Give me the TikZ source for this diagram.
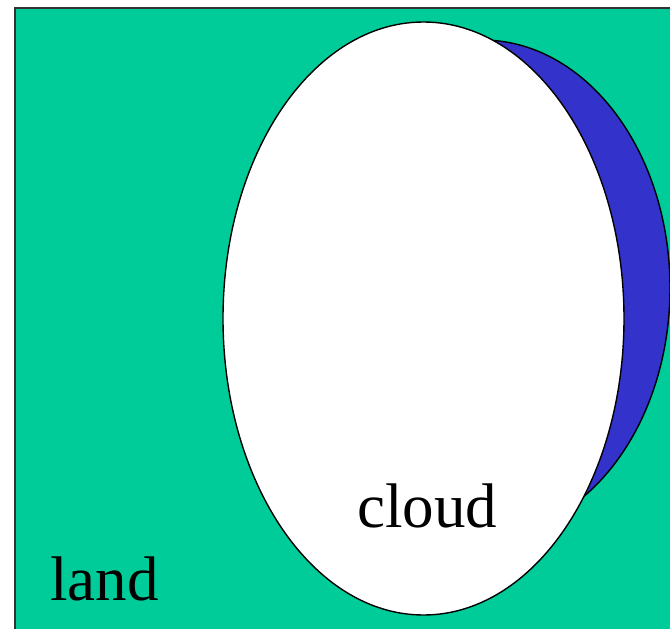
\documentclass[tikz,border=0pt]{standalone}
\usepackage{fontspec}
\setmainfont{Liberation Serif}
\definecolor{landgreen}{RGB}{0,204,153}
\definecolor{shadowblue}{RGB}{51,51,204}
\tikzset{
  outline/.style={draw=black,line width=1.4pt},
  label/.style={font=\fontsize{63}{70}\selectfont,inner sep=0pt,anchor=base west}
}
\begin{document}
\begin{tikzpicture}[x=1pt,y=-1pt]
\useasboundingbox (0,0) rectangle (670,629);
\clip (0,0) rectangle (670,629);
\fill[white] (0,0) rectangle (670,629);
% land
\draw[fill=landgreen,draw=black!80,line width=1.6pt] (15,8) rectangle (720,680);
% shadow ellipse
\draw[outline,fill=shadowblue] (482,288) ellipse [x radius=188,y radius=248];
% cloud ellipse
\draw[outline,fill=white] (423.5,318.5) ellipse [x radius=200.5,y radius=296.5];
\node[label] (land) at (50,600) {land};
\node[label] (cloud) at (357,527) {cloud};
\end{tikzpicture}
\end{document}
